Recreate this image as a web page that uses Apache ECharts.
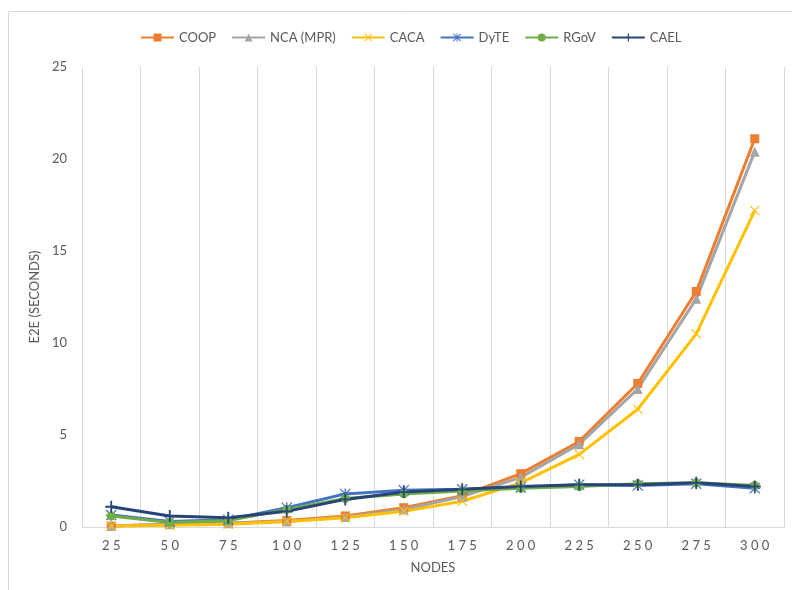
<!DOCTYPE html>
<html><head><meta charset="utf-8">
<script src="https://cdn.jsdelivr.net/npm/echarts@6/dist/echarts.min.js"></script>
<style>html,body{margin:0;padding:0;background:#fff}#c{width:792px;height:590px}</style>
</head><body><div id="c"></div>
<script>
const categories = ['25','50','75','100','125','150','175','200','225','250','275','300'];
const COOP = [0.05,0.15,0.2,0.35,0.6,1.05,1.7,2.9,4.65,7.8,12.8,21.1];
const NCA = [0.05,0.15,0.2,0.3,0.55,0.95,1.65,2.7,4.5,7.5,12.4,20.4];
const CACA = [0.05,0.1,0.15,0.3,0.5,0.85,1.4,2.4,3.95,6.4,10.5,17.2];
const DyTE = [0.65,0.3,0.4,1.05,1.8,2.0,2.05,2.15,2.3,2.25,2.35,2.1];
const RGoV = [0.6,0.25,0.35,0.95,1.55,1.8,1.95,2.1,2.2,2.35,2.4,2.25];
const CAEL = [1.1,0.6,0.5,0.85,1.5,1.9,2.05,2.2,2.3,2.3,2.4,2.2];
const yTicks = [0,5,10,15,20,25];

const PLUS = 'path://M4.25,0H5.75V4.25H10V5.75H5.75V10H4.25V5.75H0V4.25H4.25Z';
const XS = 'path://M0,0.8L0.8,0L10,9.2L9.2,10ZM9.2,0L10,0.8L0.8,10L0,9.2Z';
const AST = 'path://M4.4,0H5.6V4.4H10V5.6H5.6V10H4.4V5.6H0V4.4H4.4ZM0,0.8L0.8,0L10,9.2L9.2,10ZM9.2,0L10,0.8L0.8,10L0,9.2Z';

const font = 'Lato';
function s(name, data, color, symbol, size){
  return {name, type:'line', data, symbol, symbolSize:size, showSymbol:true,
    lineStyle:{color, width:3}, itemStyle:{color}, animation:false};
}
const chart = echarts.init(document.getElementById('c'));
chart.setOption({
  backgroundColor:'#fff',
  textStyle:{fontFamily:font},
  graphic:[{type:'rect', shape:{x:8.5,y:11.5,width:800,height:600}, style:{fill:null, stroke:'#d9d9d9', lineWidth:1}, silent:true}],
  legend:{top:26, left:135, itemWidth:33, itemHeight:10, itemGap:15,
    textStyle:{color:'#595959', fontSize:13, fontFamily:font}},
  grid:{left:82, right:8, top:67, bottom:63},
  xAxis:{type:'category', data:categories, boundaryGap:true,
    name:'NODES', nameLocation:'middle', nameGap:34,
    nameTextStyle:{color:'#595959', fontSize:13, fontFamily:font},
    axisLine:{lineStyle:{color:'#d9d9d9', width:1}},
    axisTick:{show:false},
    splitLine:{show:true, lineStyle:{color:'#d9d9d9', width:1}},
    axisLabel:{color:'#595959', fontSize:13, margin:12, fontFamily:font,
      formatter:v=>v.split('').join(' ')}},
  yAxis:{type:'value', min:yTicks[0], max:yTicks[yTicks.length-1], interval:5,
    name:'E2E (SECONDS)', nameLocation:'middle', nameGap:39,
    nameTextStyle:{color:'#595959', fontSize:13, fontFamily:font},
    axisLine:{show:false}, axisTick:{show:false}, splitLine:{show:false},
    axisLabel:{color:'#595959', fontSize:13, margin:15, fontFamily:font}},
  series:[
    s('COOP', COOP, '#ED7D31', 'rect', 9),
    s('NCA (MPR)', NCA, '#A5A5A5', 'triangle', 10),
    s('CACA', CACA, '#FFC000', XS, 10),
    s('DyTE', DyTE, '#4472C4', AST, 11),
    s('RGoV', RGoV, '#70AD47', 'circle', 9),
    s('CAEL', CAEL, '#264478', PLUS, 12)
  ]
});
</script></body></html>
